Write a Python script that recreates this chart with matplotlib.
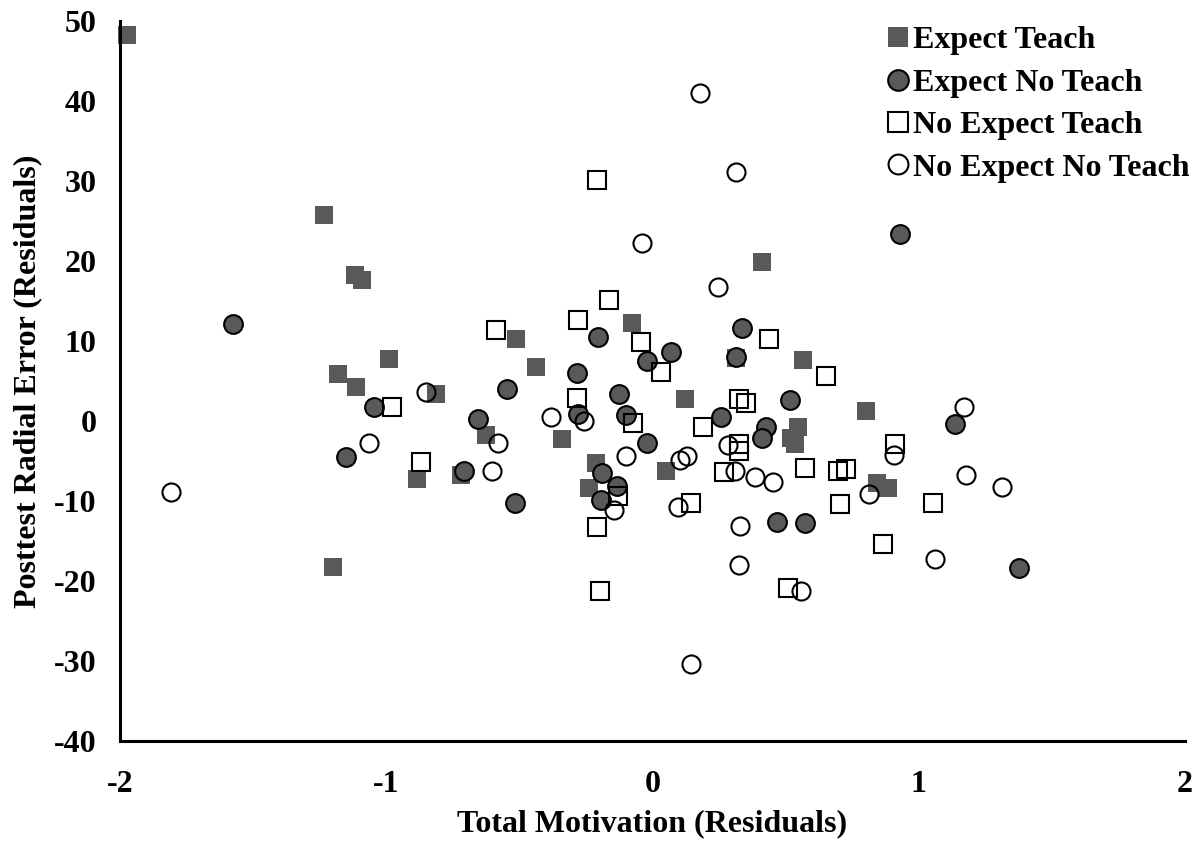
import matplotlib
matplotlib.use('Agg')
import matplotlib.pyplot as plt

plt.rcParams['font.family'] = ['Liberation Serif', 'DejaVu Serif']
plt.rcParams['font.weight'] = 'bold'
plt.rcParams['axes.unicode_minus'] = False

# Expect Teach (filled squares)
et_x = [-1.974, -1.234, -1.117, -1.091, -0.990, -1.181, -1.114, -0.813, -0.625,
        -0.885, -0.719, -1.200, -0.513, -0.438, -0.077, 0.411, 0.122, -0.340,
        0.314, 0.565, 0.546, 0.520, 0.535, 0.802, 0.843, 0.885, -0.212, -0.238,
        0.051]
et_y = [48.3, 25.8, 18.3, 17.6, 7.7, 5.9, 4.2, 3.4, -1.8,
        -7.3, -6.7, -18.2, 10.2, 6.8, 12.3, 19.9, 2.8, -2.2,
        7.9, 7.6, -0.7, -2.1, -2.9, 1.3, -7.8, -8.4, -5.2, -8.4,
        -6.2]

# Expect No Teach (filled circles)
ent_x = [-1.576, -1.046, -1.153, -0.654, -0.708, -0.548, -0.203, -0.282, -0.124,
         -0.278, -0.098, -0.021, 0.071, 0.336, 0.315, 0.257, 0.428, 0.413,
         0.516, -0.019, -0.516, -0.188, -0.135, -0.195, 0.469, 0.571, 1.136,
         1.378, 0.931]
ent_y = [12.1, 1.7, -4.5, 0.25, -6.25, 4.0, 10.5, 6.0, 3.4,
         0.9, 0.75, 7.5, 8.6, 11.6, 8.0, 0.5, -0.75, -2.1,
         2.6, -2.75, -10.25, -6.5, -8.1, -9.9, -12.6, -12.75, -0.4,
         -18.4, 23.4]

# No Expect Teach (open squares)
net_x = [-0.978, -0.868, -0.586, -0.210, -0.163, -0.278, -0.043, 0.032, 0.436,
         -0.284, -0.075, 0.190, 0.323, 0.353, 0.325, 0.325, 0.269, -0.128,
         -0.210, 0.143, -0.197, 0.509, 0.573, 0.650, 0.911, 0.695, 0.727,
         0.706, 1.054, 0.866]
net_y = [1.75, -5.1, 11.4, 30.1, 15.1, 12.6, 9.9, 6.1, 10.2,
         2.9, -0.3, -0.8, 2.8, 2.3, -2.9, -3.8, -6.4, -9.4,
         -13.2, -10.2, -21.3, -20.9, -5.9, 5.6, -2.9, -6.25, -6.0,
         -10.4, -10.25, -15.4]

# No Expect No Teach (open circles)
nent_x = [-1.807, -1.065, -0.849, -0.580, -0.603, 0.315, -0.038, 0.246, -0.381,
          -0.259, 0.179, -0.100, 0.103, 0.131, 0.285, 0.310, 0.385, 0.453,
          -0.146, 0.094, 0.329, 0.323, 0.146, 0.558, 0.907, 0.813, 1.170,
          1.177, 1.313, 1.061]
nent_y = [-8.9, -2.75, 3.6, -2.8, -6.2, 31.1, 22.2, 16.7, 0.5,
          0.06, 41.0, -4.4, -4.9, -4.4, -3.0, -6.25, -7.0, -7.6,
          -11.1, -10.75, -13.1, -18.0, -30.4, -21.2, -4.3, -9.1, 1.8,
          -6.7, -8.2, -17.2]

x_ticks = [-2, -1, 0, 1, 2]
y_ticks = [-40, -30, -20, -10, 0, 10, 20, 30, 40, 50]

gray = '#595959'
ms = 13.5
fs = 23

fig = plt.figure(figsize=(12.01, 8.43), dpi=100)
ax = fig.add_axes([0.0999, 0.121, 0.8868, 0.854])

ax.plot(et_x, et_y, 's', ms=ms, color=gray, mec=gray, mew=0, clip_on=False,
        label='Expect Teach')
ax.plot(ent_x, ent_y, 'o', ms=ms, color=gray, mec='black', mew=1.5, clip_on=False,
        label='Expect No Teach')
ax.plot(net_x, net_y, 's', ms=ms - 0.5, mfc='none', mec='black', mew=1.5, clip_on=False,
        label='No Expect Teach')
ax.plot(nent_x, nent_y, 'o', ms=ms - 0.5, mfc='none', mec='black', mew=1.5, clip_on=False,
        label='No Expect No Teach')

ax.set_xlim(-2, 2)
ax.set_ylim(-40, 50)
ax.set_xticks(x_ticks)
ax.set_yticks(y_ticks)
ax.tick_params(length=0, labelsize=fs)
ax.tick_params(axis='x', pad=21)
ax.tick_params(axis='y', pad=17)

for s in ['top', 'right']:
    ax.spines[s].set_visible(False)
for s in ['left', 'bottom']:
    ax.spines[s].set_linewidth(2.2)

ax.set_xlabel('Total Motivation (Residuals)', fontsize=fs, fontweight='bold', labelpad=7)
ax.set_ylabel('Posttest Radial Error (Residuals)', fontsize=fs, fontweight='bold', labelpad=8)

leg = ax.legend(loc='upper right', bbox_to_anchor=(1.0166, 1.011), frameon=False,
                fontsize=fs, handlelength=0.6, handletextpad=0.18, labelspacing=0.41,
                borderaxespad=0.0, markerscale=1.1)

fig.savefig('out.png', dpi=100)
